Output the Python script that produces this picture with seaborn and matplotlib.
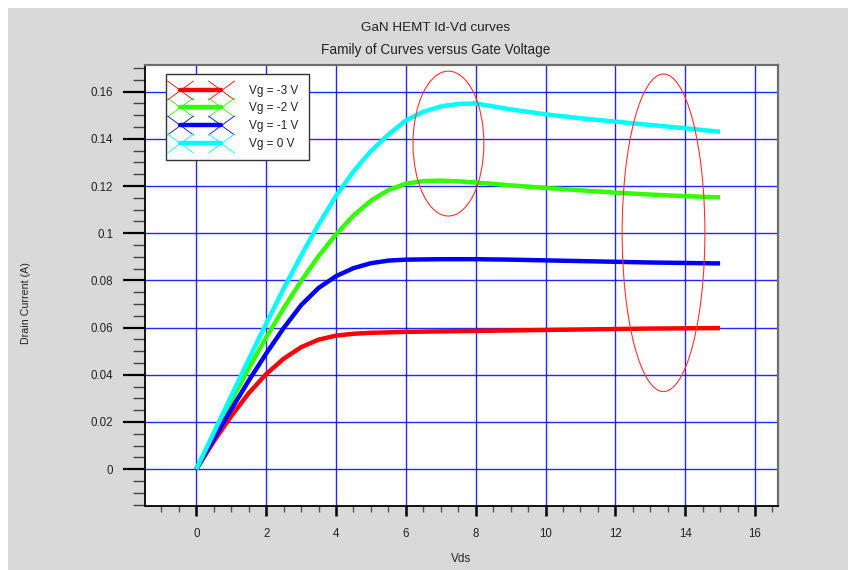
import numpy as np
import pandas as pd
import seaborn as sns
import matplotlib
matplotlib.use("Agg")
import matplotlib.pyplot as plt
from matplotlib.lines import Line2D
from matplotlib.patches import Rectangle, Ellipse
from matplotlib.path import Path
from matplotlib.ticker import MultipleLocator

# ---- data ----
vds = [0, 0.5, 1, 1.5, 2, 2.5, 3, 3.5, 4, 4.5, 5, 5.5, 6, 6.5, 7, 7.5, 8,
       9, 10, 11, 12, 13, 14, 15]
id_vg_m3 = [0, 0.0118, 0.0225, 0.0322, 0.0403, 0.0468, 0.0517, 0.0549, 0.0566, 0.0574, 0.0578,
            0.058, 0.0582, 0.0583, 0.0584, 0.0585, 0.0586,
            0.0588, 0.059, 0.0592, 0.0594, 0.0596, 0.0597, 0.0598]
id_vg_m2 = [0, 0.0145, 0.029, 0.0428, 0.0558, 0.0682, 0.0797, 0.0903, 0.0995, 0.1075, 0.1138,
            0.1183, 0.121, 0.1221, 0.1223, 0.1220, 0.1215,
            0.1203, 0.1192, 0.1182, 0.1172, 0.1164, 0.1157, 0.1152]
id_vg_m1 = [0, 0.0128, 0.0254, 0.0375, 0.049, 0.0598, 0.0695, 0.0768, 0.0818, 0.0852, 0.0873,
            0.0884, 0.0888, 0.0889, 0.089, 0.089, 0.089,
            0.0888, 0.0885, 0.0882, 0.0879, 0.0876, 0.0874, 0.0872]
id_vg_0 = [0, 0.0155, 0.031, 0.0465, 0.0617, 0.0765, 0.0905, 0.1037, 0.1158, 0.1262, 0.1348,
           0.1418, 0.1478, 0.1515, 0.1537, 0.1548, 0.155,
           0.1525, 0.1504, 0.1487, 0.1473, 0.1459, 0.1445, 0.143]
series_labels = ["Vg = -3 V", "Vg = -2 V", "Vg = -1 V", "Vg = 0 V"]
series_colors = ["#ff0000", "#33ff00", "#0000ff", "#00ffff"]
x_ticks = [0, 2, 4, 6, 8, 10, 12, 14, 16]
y_ticks = [0, 0.02, 0.04, 0.06, 0.08, 0.1, 0.12, 0.14, 0.16]
y_tick_labels = ["0", "0.02", "0.04", "0.06", "0.08", "0.1", "0.12", "0.14", "0.16"]
# highlight ellipses: (center x, center y, width, height)
ellipses = [(7.22, 0.138, 2.03, 0.0614), (13.38, 0.1002, 2.37, 0.1346)]

df = pd.concat([
    pd.DataFrame({"Vds": vds, "Id": ys, "Vg": lab})
    for ys, lab in zip([id_vg_m3, id_vg_m2, id_vg_m1, id_vg_0], series_labels)
], ignore_index=True)

sns.set_theme(style="white")
plt.rcParams['font.family'] = ['Liberation Sans', 'DejaVu Sans']

W, H = 848, 570
fig = plt.figure(figsize=(W / 100, H / 100), dpi=100, facecolor="white")
fig.patches.append(Rectangle((8 / W, 0), 1 - 8 / W, 1 - 8 / H, transform=fig.transFigure,
                             facecolor="#d9d9d9", edgecolor="none", zorder=-10))
ax = fig.add_axes([145 / W, (H - 506) / H, (777.7 - 145) / W, (506 - 65) / H])
ax.set_facecolor("white")

sns.lineplot(data=df, x="Vds", y="Id", hue="Vg", hue_order=series_labels,
             palette=series_colors, linewidth=3.2, ax=ax, legend=False, zorder=3,
             solid_capstyle="butt", solid_joinstyle="round")

for cx, cy, ew, eh in ellipses:
    ax.add_patch(Ellipse((cx, cy), ew, eh, fill=False, edgecolor="#ff3333", lw=0.8, zorder=4))

ax.set_xlim(-1.47, 16.65)
ax.set_ylim(-0.0156, 0.1713)
ax.set_xticks(x_ticks)
ax.set_xticklabels([str(t) for t in x_ticks])
ax.set_yticks(y_ticks)
ax.set_yticklabels(y_tick_labels)
ax.xaxis.set_minor_locator(MultipleLocator(0.5))
ax.yaxis.set_minor_locator(MultipleLocator(0.005))
ax.grid(True, which="major", color="#0000ff", lw=1.0, alpha=0.85, zorder=1)
ax.set_axisbelow(True)

ax.tick_params(axis="y", which="major", direction="out", length=16, width=1.6, color="black",
               labelsize=8.3, labelcolor="#222222", pad=7, left=True)
ax.tick_params(axis="y", which="minor", direction="out", length=8.5, width=1.0, color="#444444", left=True)
ax.tick_params(axis="x", which="major", direction="out", length=7, width=1.8, color="black",
               labelsize=8.3, labelcolor="#222222", pad=9, bottom=True)
ax.tick_params(axis="x", which="minor", direction="out", length=4.3, width=1.0, color="#555555", bottom=True)

for s in ["left", "bottom"]:
    ax.spines[s].set_color("black")
    ax.spines[s].set_linewidth(1.3)
for s in ["top", "right"]:
    ax.spines[s].set_color("#6e6e6e")
    ax.spines[s].set_linewidth(1.6)

ax.set_xlabel("")
ax.set_ylabel("")
fig.text(461 / W, 1 - 559 / H, "Vds", ha="center", va="center", fontsize=8.5, color="#222222")
fig.text(26 / W, 1 - 303 / H, "Drain Current (A)", ha="center", va="center", rotation=90,
         fontsize=7.7, color="#222222")
fig.text(436 / W, 1 - 28 / H, "GaN HEMT Id-Vd curves", ha="center", va="center", fontsize=9.7, color="#222222")
fig.text(436 / W, 1 - 50 / H, "Family of Curves versus Gate Voltage", ha="center", va="center",
         fontsize=9.8, color="#222222")

xmark = Path([(-1.3, -0.95), (1.3, 0.95), (-1.3, 0.95), (1.3, -0.95)],
             [Path.MOVETO, Path.LINETO, Path.MOVETO, Path.LINETO])
handles = [Line2D([0], [0], color=c, lw=3.2, marker=xmark, markersize=19,
                  markeredgewidth=0.6, markerfacecolor="none", markeredgecolor=c)
           for c in series_colors]
leg = ax.legend(handles, series_labels, loc="upper left",
                bbox_to_anchor=(165.7 / W, 1 - 74.3 / H), bbox_transform=fig.transFigure,
                numpoints=2, handlelength=4.1, handletextpad=2.1, labelspacing=0.48,
                borderpad=0.88, borderaxespad=0, fancybox=False, framealpha=1,
                fontsize=8.5, edgecolor="#333333")
leg.get_frame().set_linewidth(1.0)
for t in leg.get_texts():
    t.set_color("#222222")

fig.savefig("out.png", dpi=100, facecolor=fig.get_facecolor())
